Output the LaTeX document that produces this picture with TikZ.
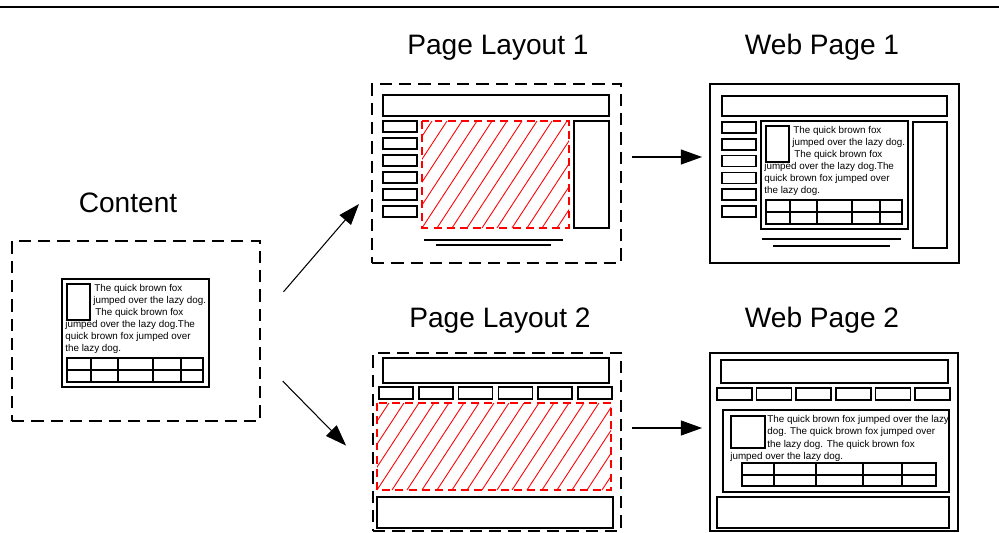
\documentclass[tikz,border=0pt]{standalone}
\usepackage{fontspec}
\setmainfont{Liberation Sans}
\usetikzlibrary{positioning,arrows.meta,fit,calc}
\definecolor{hatchc}{HTML}{FF0000}

\begin{document}
\begin{tikzpicture}[x=0.02cm, y=-0.02cm,
  frame/.style={draw, line width=1.1pt, inner sep=0pt},
  dashframe/.style={frame, dash pattern=on 7pt off 4pt},
  part/.style={draw, line width=0.9pt},
  hatchbox/.style={draw=hatchc, line width=0.6pt, dash pattern=on 4.5pt off 3pt},
  hatchline/.style={hatchc, line width=0.5pt},
  title/.style={anchor=base, font=\fontsize{16}{19}\selectfont},
  txt/.style={anchor=base west, inner sep=0pt, font=\fontsize{5.6}{6.8}\selectfont},
  flow/.style={-{Triangle[length=12pt,width=8.5pt]}, line width=0.6pt},
  article/.pic={
    % text block with picture and a small table
    \draw[part] (0,0) rectangle (147,108);
    \draw[part] (5,5) rectangle (28,41);
    \foreach \words/\xx/\yy [count=\i] in {
        The quick brown fox/32/12.5,
        jumped over the lazy dog./31/24.5,
        The quick brown fox/33/36.5,
        jumped over the lazy dog.The/3/48.5,
        quick brown fox jumped over/3/60.5,
        the lazy dog./3/72.5}
      \node[txt] (-t\i) at (\xx,\yy) {\words};
    \draw[part] (5,79) rectangle (141,103);
    \draw[part] (5,91) -- (141,91);
    \foreach \c in {29,56,91,119}
      \draw[part] (\c,79) -- (\c,103);
  }
]
\useasboundingbox (0,0) rectangle (999,533);
\draw[line width=1.2pt] (0,7) -- (999,7);

% ---- Content ----
\node[title] (tcontent) at (128,213) {Content};
\node[dashframe, fit={(12,241) (260,421)}] (content) {};
\pic (art0) at (62,279) {article};

% ---- Page Layout 1 ----
\node[title] (tlayout1) at (498,55) {Page Layout 1};
\node[dashframe, fit={(372,84) (621,263)}] (layout1) {};
\draw[part] (383,95) rectangle (609,116);
\foreach \i in {0,...,5}
  \draw[part] (383,121+17*\i) rectangle (417,132+17*\i);
\begin{scope}
  \clip (422,121) rectangle (569,228);
  \foreach \k in {-5,...,10}
    \draw[hatchline] (422+15*\k,228) -- ++(70,-107);
\end{scope}
\draw[hatchbox] (422,121) rectangle (569,228);
\draw[part] (574,121) rectangle (609,228);
\draw[part] (424,240) -- (563,240);
\draw[part] (436,245) -- (551,245);

% ---- Web Page 1 ----
\node[title] (tweb1) at (822,55) {Web Page 1};
\node[frame, fit={(710,84) (959,263)}] (web1) {};
\draw[part] (722,96) rectangle (947,116);
\foreach \i in {0,...,5}
  \draw[part] (722,122+16.8*\i) rectangle (756,133+16.8*\i);
\pic (art1) at (761,121) {article};
\draw[part] (913,122) rectangle (947,248);
\draw[part] (762,239) -- (901,239);
\draw[part] (773,246) -- (890,246);

% ---- Page Layout 2 ----
\node[title] (tlayout2) at (500,327) {Page Layout 2};
\node[dashframe, fit={(373,353) (621,531)}] (layout2) {};
\draw[part] (383,358) rectangle (609,383);
\foreach \i in {0,...,5}
  \draw[part] (379+39.8*\i,387) rectangle (413+39.8*\i,399);
\begin{scope}
  \clip (377,403) rectangle (611,490);
  \foreach \k in {-4,...,16}
    \draw[hatchline] (377+15*\k,490) -- ++(70,-107);
\end{scope}
\draw[hatchbox] (377,403) rectangle (611,490);
\draw[part] (377,497) rectangle (613,528);

% ---- Web Page 2 ----
\node[title] (tweb2) at (822,327) {Web Page 2};
\node[frame, fit={(710,353) (958,531)}] (web2) {};
\draw[part] (721,360) rectangle (948,383);
\foreach \i in {0,...,5}
  \draw[part] (717+39.6*\i,388) rectangle (752+39.6*\i,400);
\draw[part] (723,410) rectangle (949,492);
\draw[part] (731,416) rectangle (765,448);
\foreach \words/\xx/\yy [count=\i] in {
    The quick brown fox jumped over the lazy/767/422.5,
    dog. The quick brown fox jumped over/767/434.8,
    the lazy dog. The quick brown fox/767/447,
    jumped over the lazy dog./730/459.5}
  \node[txt] (w2t\i) at (\xx,\yy) {\words};
\draw[part] (742,463) rectangle (936,486);
\draw[part] (742,475) -- (936,475);
\foreach \c in {774,816,863,902}
  \draw[part] (\c,463) -- (\c,486);
\draw[part] (717,497) rectangle (949,528);

% ---- flows ----
\draw[flow, shorten <=0.69cm, shorten >=0.37cm]
  ([yshift=0.26cm]content.east) -- ([yshift=-0.33cm]layout1.west);
\draw[flow, shorten <=0.62cm, shorten >=0.74cm]
  ([yshift=-0.56cm]content.east) -- ([yshift=-0.6cm]layout2.west);
\draw[flow, shorten <=0.2cm, shorten >=0.14cm]
  ([yshift=0.33cm]layout1.east) -- ([yshift=0.33cm]web1.west);
\draw[flow, shorten <=0.2cm, shorten >=0.14cm]
  ([yshift=0.28cm]layout2.east) -- ([yshift=0.28cm]web2.west);
\end{tikzpicture}
\end{document}
